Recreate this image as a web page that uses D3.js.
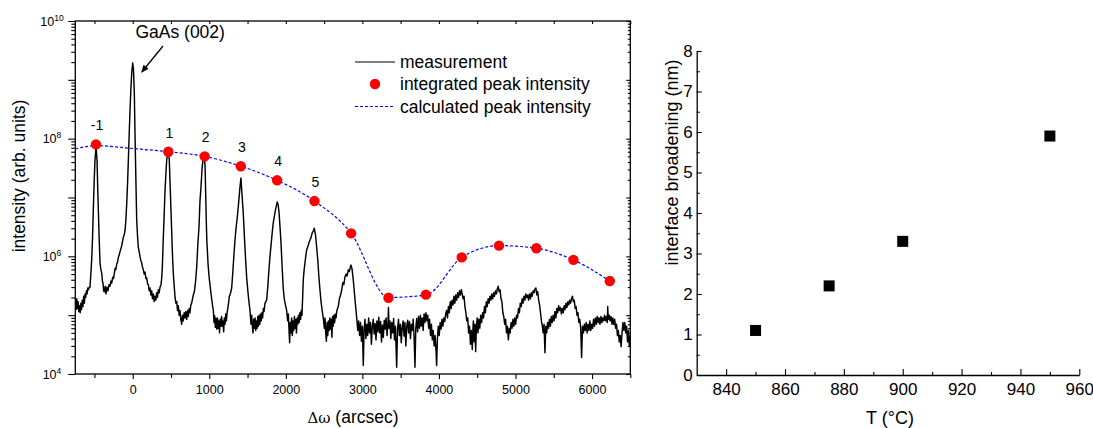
<!DOCTYPE html>
<html><head><meta charset="utf-8">
<script src="https://cdn.jsdelivr.net/npm/d3@7"></script>
<style>
body{margin:0;background:#fff}
svg{display:block}
text{font-family:"Liberation Sans",Arial,Helvetica,sans-serif;fill:#000}
</style>
</head><body>
<svg id="c" width="1093" height="428"></svg>
<script>
// ---------- Left panel data ----------
const measX = [
-750,-740,-731,-722,-713,-704,-695,-686,-677,-668,-659,-650,-641,-632,-623,-614,-605,-596,-587,-578,-566,-558,-547,-536,-525,-515,-504,-493,-479,-466,-458,-449,-438,-427,-416,-405,-396,-388,-380,-371,-360,-349,-336,-323,-310,-296,-285,-274,-262,-250,-240,-231,-220,-209,-198,-188,-177,-166,-155,-144,-133,-123,-112,-101,-90,-78,-67,-57,-46,-35,-24,-13,0,
10,21,30,40,52,63,73,84,95,106,118,128,138,150,161,172,183,194,204,215,226,237,248,258,269,280,291,302,313,324,334,345,357,370,380,387,396,405,413,421,433,444,460,470,478,489,500,511,522,533,543,553,564,575,585,596,606,617,628,640,650,661,672,683,694,705,716,726,737,748,759,770,781,792,805,820,836,851,866,879,892,905,918,935,945,953,961,968,985,997,
1009,1020,1031,1042,1053,1062,1071,1080,1089,1098,1107,1116,1125,1134,1143,1152,1161,1170,1179,1188,1197,1206,1215,1224,1233,1242,1252,1262,1271,1282,1293,1310,1323,1336,1350,1365,1379,1392,1403,1414,1428,1444,1460,1475,1489,1505,1518,1532,1545,1554,1563,1571,1580,1589,1598,1607,1616,1625,1634,1643,1652,1661,1670,1679,1688,1697,1706,1715,1728,1750,1764,1778,1793,1808,1822,1836,1850,1863,1876,1889,1900,1912,1924,1938,1952,1967,1980,1995,
2011,2024,2033,2042,2050,2058,2067,2076,2085,2094,2103,2112,2121,2130,2139,2148,2157,2166,2175,2184,2193,2202,2211,2220,2228,2240,2256,2272,2290,2302,2316,2330,2345,2358,2372,2388,2403,2418,2432,2446,2460,2475,2490,2503,2512,2521,2530,2539,2548,2557,2566,2575,2584,2593,2602,2611,2620,2629,2638,2647,2656,2667,2685,2700,2715,2730,2745,2758,2773,2788,2800,2816,2830,2842,2852,2866,2881,2895,2910,2925,
2940,2952,2964,2976,2988,3000,3012,3022,3034,3046,3058,3070,3082,3094,3106,3118,3130,3142,3154,3166,3178,3190,3202,3214,3226,3238,3250,3262,3274,3286,3298,3310,3322,3334,3341,3348,3360,3372,3384,3396,3408,3420,3432,3448,3460,3472,3484,3496,3508,3520,3532,3544,3556,3568,3580,3592,3604,3616,3628,3640,3652,3664,3676,3687,3698,3710,3722,3734,3746,3758,3770,3782,3794,3806,3818,3830,3842,3854,3866,3878,3890,3902,3914,3926,3938,3950,3962,3970,3980,3992,
4004,4016,4028,4040,4052,4064,4076,4088,4100,4112,4124,4136,4148,4160,4172,4184,4196,4208,4220,4232,4244,4256,4268,4280,4292,4304,4316,4328,4340,4352,4364,4376,4388,4400,4412,4424,4436,4444,4450,4460,4470,4480,4490,4500,4510,4522,4534,4546,4558,4571,4583,4595,4607,4619,4631,4643,4655,4667,4679,4691,4703,4715,4727,4739,4751,4763,4775,4787,4799,4811,4823,4835,4847,4859,4871,4883,4895,4907,4919,4931,4943,4955,4967,4979,4991,
5003,5015,5027,5039,5051,5063,5075,5087,5099,5111,5123,5135,5147,5159,5171,5183,5195,5207,5219,5231,5243,5255,5267,5279,5291,5303,5315,5327,5339,5351,5362,5373,5385,5396,5408,5420,5432,5444,5456,5468,5480,5492,5504,5516,5528,5540,5552,5564,5576,5588,5600,5612,5624,5636,5648,5660,5672,5684,5696,5708,5720,5732,5744,5756,5768,5780,5792,5804,5816,5828,5840,5852,5864,5876,5888,5900,5912,5924,5936,5948,5960,5972,5984,5996,
6008,6020,6032,6044,6056,6068,6080,6092,6104,6116,6128,6140,6152,6164,6176,6188,6200,6205,6212,6224,6236,6248,6260,6272,6284,6296,6308,6320,6332,6344,6356,6368,6380,6392,6404,6416,6428,6440,6452,6464,6476,6488,6500
];
const measY = [
1.6e5,1.25e5,1.9e5,1.3e5,1.7e5,1.15e5,1.45e5,1.1e5,1.6e5,1.25e5,1.8e5,1.4e5,2.1e5,1.6e5,2.3e5,2.0e5,2.6e5,2.3e5,2.9e5,2.7e5,3.0e5,3.0e5,5.0e5,8.7e5,2.0e6,6.1e6,1.8e7,4.3e7,7.3e7,4.3e7,1.6e7,6.1e6,2.0e6,7.7e5,6.0e5,5.2e5,3.8e5,3.5e5,2.6e5,2.5e5,3.1e5,2.3e5,3.0e5,2.6e5,3.3e5,3.1e5,3.8e5,3.5e5,4.4e5,4.2e5,5.2e5,6.2e5,6.0e5,7.4e5,8.0e5,9.6e5,1.05e6,1.2e6,1.35e6,1.5e6,1.8e6,2.1e6,2.3e6,2.7e6,4.0e6,8.0e6,1.8e7,4.3e7,1.2e8,3.1e8,7.0e8,1.3e9,1.93e9,
1.5e9,6.0e8,1.2e8,2.5e7,4.2e6,2.2e6,1.44e6,1.2e6,1.0e6,8.5e5,7.7e5,6.5e5,6.0e5,5.0e5,5.4e5,4.2e5,4.3e5,3.4e5,3.3e5,2.6e5,2.9e5,2.2e5,2.6e5,1.9e5,2.3e5,1.7e5,2.1e5,1.8e5,2.4e5,2.0e5,2.7e5,2.4e5,3.0e5,3.3e5,4.5e5,6.6e5,1.5e6,3.2e6,6.0e6,1.19e7,2.5e7,4.3e7,6.2e7,5.5e7,4.3e7,1.6e7,6.1e6,2.2e6,8.7e5,4.5e5,3.0e5,2.0e5,1.6e5,1.7e5,1.2e5,1.45e5,1.0e5,1.2e5,8.5e4,7.0e4,1.0e5,8.0e4,1.1e5,9.0e4,1.15e5,8.5e4,1.2e5,9.5e4,1.3e5,1.1e5,1.5e5,1.6e5,1.9e5,2.2e5,2.5e5,3.6e5,6.6e5,1.6e6,3.2e6,9.0e6,1.5e7,3.0e7,4.4e7,4.9e7,3.5e7,1.2e7,4.0e6,1.9e6,7.1e5,4.6e5,
3.3e5,2.5e5,1.9e5,1.5e5,1.2e5,7.5e4,9.8e4,6.2e4,8.8e4,5.8e4,9.0e4,6.0e4,8.0e4,5.0e4,8.5e4,6.5e4,9.5e4,6.5e4,8.0e4,5.2e4,9.0e4,7.0e4,1.05e5,8.0e4,1.1e5,1.3e5,1.6e5,2.1e5,2.2e5,2.5e5,2.9e5,6.0e5,1.1e6,1.9e6,3.0e6,4.5e6,6.9e6,1.1e7,1.6e7,2.15e7,1.1e7,5.5e6,2.0e6,8.7e5,4.3e5,2.5e5,1.7e5,1.2e5,7.0e4,1.0e5,6.5e4,5.0e4,8.5e4,6.0e4,9.0e4,5.5e4,8.0e4,6.0e4,9.5e4,6.5e4,1.0e5,7.0e4,1.05e5,8.0e4,1.1e5,9.0e4,1.3e5,1.15e5,1.6e5,1.8e5,3.0e5,5.5e5,1.0e6,1.6e6,2.5e6,3.7e6,4.8e6,6.0e6,7.2e6,8.4e6,7.5e6,5.5e6,3.2e6,1.6e6,6.5e5,2.8e5,1.9e5,1.5e5,
1.2e5,8.0e4,1.05e5,5.5e4,3.4e4,7.5e4,5.0e4,9.0e4,4.5e4,8.0e4,5.5e4,9.5e4,6.0e4,8.5e4,5.0e4,9.0e4,7.0e4,1.0e5,7.5e4,1.1e5,8.5e4,1.2e5,1.0e5,2.0e5,4.0e5,6.0e5,9.0e5,1.28e6,1.5e6,1.7e6,1.9e6,2.1e6,2.5e6,2.7e6,3.0e6,2.3e6,1.44e6,8.5e5,4.5e5,2.7e5,1.7e5,1.2e5,8.7e4,6.0e4,9.0e4,5.0e4,3.6e4,7.5e4,4.5e4,8.0e4,5.5e4,9.0e4,5.8e4,8.5e4,4.2e4,9.5e4,6.5e4,1.0e5,7.5e4,1.05e5,9.0e4,1.2e5,1.4e5,1.9e5,2.2e5,2.7e5,3.6e5,3.3e5,4.5e5,5.0e5,4.6e5,5.9e5,5.5e5,6.5e5,7.1e5,6.0e5,4.0e5,2.5e5,1.5e5,9.3e4,
5.5e4,8.0e4,4.5e4,7.5e4,3.6e4,6.5e4,1.4e4,5.5e4,8.5e4,4.0e4,7.0e4,4.5e4,9.0e4,5.0e4,7.5e4,3.2e4,6.5e4,8.5e4,4.8e4,7.2e4,3.8e4,8.0e4,5.2e4,9.2e4,5.0e4,7.8e4,3.5e4,6.8e4,4.2e4,8.2e4,5.8e4,9.0e4,4.5e4,7.0e4,1.35e5,6.0e4,8.0e4,4.0e4,7.5e4,5.0e4,8.8e4,3.8e4,6.5e4,1.3e4,6.0e4,8.5e4,4.5e4,7.0e4,3.4e4,6.2e4,8.0e4,4.4e4,7.5e4,3.0e4,6.5e4,8.2e4,5.0e4,7.8e4,4.0e4,7.0e4,5.5e4,8.5e4,4.2e4,1.3e4,6.0e4,8.8e4,5.2e4,9.5e4,6.0e4,1.0e5,6.5e4,9.0e4,5.5e4,1.05e5,7.5e4,1.1e5,8.0e4,1.0e5,6.0e4,8.5e4,4.5e4,7.0e4,3.8e4,5.5e4,3.0e4,4.5e4,2.5e4,1.4e4,4.0e4,6.5e4,
4.5e4,7.5e4,5.8e4,8.5e4,6.5e4,9.0e4,7.8e4,1.05e5,1.2e5,9.0e4,1.4e5,1.1e5,1.7e5,1.3e5,1.8e5,1.5e5,2.1e5,1.6e5,2.2e5,1.8e5,2.4e5,2.0e5,2.6e5,2.2e5,2.7e5,2.3e5,1.9e5,2.1e5,1.4e5,1.1e5,8.0e4,9.0e4,5.0e4,6.5e4,3.2e4,5.5e4,2.6e4,5.6e4,8.0e4,3.5e4,7.0e4,2.4e4,6.5e4,9.0e4,5.0e4,8.5e4,6.0e4,1.0e5,7.5e4,1.1e5,9.0e4,1.4e5,1.1e5,1.7e5,1.4e5,1.9e5,1.6e5,2.1e5,1.8e5,2.3e5,1.9e5,2.4e5,2.1e5,2.6e5,2.3e5,2.8e5,3.1e5,2.5e5,2.7e5,1.9e5,1.7e5,1.1e5,9.5e4,7.0e4,8.5e4,5.0e4,6.5e4,3.8e4,6.0e4,5.0e4,7.5e4,6.0e4,8.5e4,6.5e4,9.0e4,
7.0e4,1.0e5,9.0e4,1.3e5,1.1e5,1.6e5,1.4e5,1.9e5,1.6e5,2.1e5,1.8e5,2.3e5,2.0e5,2.2e5,1.8e5,2.3e5,1.9e5,2.4e5,2.1e5,2.6e5,2.4e5,2.8e5,2.9e5,2.2e5,2.5e5,1.8e5,1.5e5,1.1e5,8.0e4,6.5e4,5.0e4,7.0e4,2.3e4,6.5e4,5.0e4,7.5e4,6.0e4,8.5e4,6.5e4,9.5e4,7.5e4,1.0e5,8.0e4,1.15e5,9.0e4,1.3e5,1.1e5,1.45e5,1.2e5,1.35e5,1.05e5,1.3e5,1.1e5,1.45e5,1.25e5,1.6e5,1.35e5,1.7e5,1.5e5,1.8e5,1.6e5,1.9e5,2.1e5,1.7e5,1.8e5,1.3e5,1.4e5,1.0e5,1.1e5,7.5e4,8.5e4,6.0e4,1.9e4,6.5e4,5.0e4,7.0e4,5.5e4,7.5e4,5.0e4,7.0e4,5.5e4,8.0e4,5.5e4,7.0e4,
6.0e4,8.5e4,6.5e4,9.0e4,7.0e4,9.5e4,7.5e4,9.0e4,7.0e4,9.5e4,7.5e4,9.0e4,8.0e4,1.0e5,8.0e4,9.5e4,7.5e4,1.4e5,8.5e4,1.0e5,8.0e4,9.5e4,7.0e4,9.0e4,7.0e4,8.5e4,6.0e4,7.0e4,4.5e4,5.5e4,3.5e4,4.5e4,2.9e4,5.0e4,7.5e4,5.5e4,7.5e4,5.0e4,6.5e4,3.5e4,5.5e4,3.0e4,4.5e4
];
const peakX = [-480,465,940,1412,1886,2374,2853,3341,3830,4298,4785,5273,5757,6232];
const peakY = [8.0e7,6.0e7,5.0e7,3.4e7,1.96e7,8.7e6,2.46e6,1.98e5,2.23e5,9.6e5,1.52e6,1.37e6,8.7e5,3.8e5];
const peakLabels = ["-1","1","2","3","4","5"];
const calcX = [-750,-480,0,465,940,1412,1886,2374,2853,3341,3830,4298,4785,5273,5757,6232];
const calcY = [6.7e7,7.6e7,6.8e7,6.0e7,5.0e7,3.4e7,1.96e7,8.7e6,2.46e6,2.0e5,2.2e5,9.6e5,1.52e6,1.37e6,8.7e5,3.8e5];
const xMajorTicks = [0,1000,2000,3000,4000,5000,6000];
const xMinorTicks = [-500,500,1500,2500,3500,4500,5500,6500];
const yLabelExps = [4,6,8,10];
const legendLabels = ["measurement","integrated peak intensity","calculated peak intensity"];

// ---------- Right panel data ----------
const tempC = [850,875,900,950];
const broadening = [1.1,2.2,3.3,5.9];
const tMajorTicks = [840,860,880,900,920,940,960];
const tMinorTicks = [850,870,890,910,930,950];
const bMajorTicks = [0,1,2,3,4,5,6,7,8];
const bMinorTicks = [0.5,1.5,2.5,3.5,4.5,5.5,6.5,7.5];

const svg = d3.select("#c");

// ================= LEFT PANEL =================
const L = {l:75.3, r:630.3, t:21, b:374};
const x = d3.scaleLinear().domain([-750,6500]).range([L.l,L.r]);
const y = d3.scaleLog().domain([1e4,1e10]).range([L.b,L.t]);

const yMajor = d3.range(4,11).map(e => Math.pow(10,e));
const yMinor = [];
for (let e=4;e<10;e++) for (let k=2;k<=9;k++) yMinor.push(k*Math.pow(10,e));

const gL = svg.append("g");
function styleAxis(g){ g.select(".domain").remove(); g.selectAll("line").attr("stroke","#000").attr("stroke-width",1.1); }

// bottom
gL.append("g").attr("transform",`translate(0,${L.b})`)
  .call(d3.axisBottom(x).tickValues(xMajorTicks).tickSize(5).tickPadding(6).tickFormat(d3.format("d")))
  .call(styleAxis)
  .selectAll("text").attr("font-size",12.5).attr("font-family","Liberation Sans, Arial, sans-serif");
gL.append("g").attr("transform",`translate(0,${L.b})`)
  .call(d3.axisBottom(x).tickValues(xMinorTicks).tickSize(4).tickFormat(""))
  .call(styleAxis);
// top
gL.append("g").attr("transform",`translate(0,${L.t})`)
  .call(d3.axisTop(x).tickValues(xMajorTicks.concat(xMinorTicks)).tickSize(-3).tickFormat(""))
  .call(styleAxis);
// left
gL.append("g").attr("transform",`translate(${L.l},0)`)
  .call(d3.axisLeft(y).tickValues(yMajor).tickSize(7).tickFormat(""))
  .call(styleAxis);
gL.append("g").attr("transform",`translate(${L.l},0)`)
  .call(d3.axisLeft(y).tickValues(yMinor).tickSize(4).tickFormat(""))
  .call(styleAxis);
// right
gL.append("g").attr("transform",`translate(${L.r},0)`)
  .call(d3.axisRight(y).tickValues(yMajor).tickSize(-4).tickFormat(""))
  .call(styleAxis);
gL.append("g").attr("transform",`translate(${L.r},0)`)
  .call(d3.axisRight(y).tickValues(yMinor).tickSize(-2.5).tickFormat(""))
  .call(styleAxis);

// y tick labels 10^n
const yl = gL.append("g").selectAll("text").data(yLabelExps).join("text")
  .attr("x", 52).attr("y", d => y(Math.pow(10,d)) + 4.5)
  .attr("text-anchor","middle").attr("font-size",12.5);
yl.append("tspan").text("10");
yl.append("tspan").attr("dy",-5).attr("font-size",8.5).text(d => d);

// frame
gL.append("rect").attr("x",L.l).attr("y",L.t).attr("width",L.r-L.l).attr("height",L.b-L.t)
  .attr("fill","none").attr("stroke","#000").attr("stroke-width",1.3);

// clip
svg.append("clipPath").attr("id","clipL").append("rect")
  .attr("x",L.l).attr("y",L.t).attr("width",L.r-L.l).attr("height",L.b-L.t);

// measurement
const meas = measX.map((v,i)=>[v,measY[i]]);
gL.append("path").datum(meas).attr("clip-path","url(#clipL)")
  .attr("d", d3.line().x(d=>x(d[0])).y(d=>y(d[1])))
  .attr("fill","none").attr("stroke","#000").attr("stroke-width",1.45).attr("stroke-linejoin","round");

// calculated
const calc = calcX.map((v,i)=>[v,calcY[i]]);
gL.append("path").datum(calc).attr("clip-path","url(#clipL)")
  .attr("d", d3.line().x(d=>x(d[0])).y(d=>y(d[1])).curve(d3.curveMonotoneX))
  .attr("fill","none").attr("stroke","#0000ff").attr("stroke-width",1.2).attr("stroke-dasharray","3,2");

// peak points
gL.append("g").selectAll("circle").data(peakX).join("circle")
  .attr("cx",(d)=>x(d)).attr("cy",(d,i)=>y(peakY[i])).attr("r",5.2).attr("fill","#ff0000");

// peak order labels
gL.append("g").selectAll("text").data(peakLabels).join("text")
  .attr("x",(d,i)=>x(peakX[i])+1).attr("y",(d,i)=>y(peakY[i])-14)
  .attr("text-anchor","middle").attr("font-size",14).text(d=>d);

// GaAs (002) annotation
gL.append("text").attr("x",x(620)).attr("y",y(5.1e9)).attr("text-anchor","middle")
  .attr("font-size",17.5).text("GaAs (002)");
{
  const x1=x(396), y1=y(3.76e9), x2=x(108), y2=y(1.31e9);
  const dx=x2-x1, dy=y2-y1, len=Math.hypot(dx,dy), ux=dx/len, uy=dy/len;
  const hl=8, hw=3.2;
  gL.append("line").attr("x1",x1).attr("y1",y1).attr("x2",x2-ux*hl*0.8).attr("y2",y2-uy*hl*0.8)
    .attr("stroke","#000").attr("stroke-width",1.3);
  const bx=x2-ux*hl, by=y2-uy*hl;
  gL.append("polygon").attr("points",[[x2,y2],[bx-uy*hw,by+ux*hw],[bx+uy*hw,by-ux*hw]].map(p=>p.join(",")).join(" "))
    .attr("fill","#000");
}

// legend
const lg = gL.append("g");
const lgY = [62, 84, 106.5];
lg.append("line").attr("x1",355).attr("x2",395).attr("y1",lgY[0]).attr("y2",lgY[0]).attr("stroke","#000").attr("stroke-width",1.2);
lg.append("circle").attr("cx",375).attr("cy",lgY[1]).attr("r",5.2).attr("fill","#ff0000");
lg.append("line").attr("x1",355).attr("x2",395).attr("y1",lgY[2]).attr("y2",lgY[2]).attr("stroke","#0000ff").attr("stroke-width",1.2).attr("stroke-dasharray","3,2");
lg.selectAll("text").data(legendLabels).join("text")
  .attr("x",400).attr("y",(d,i)=>lgY[i]+6).attr("font-size",17.5).text(d=>d);

// axis titles
gL.append("text").attr("transform","translate(25,176) rotate(-90)").attr("text-anchor","middle")
  .attr("font-size",17.5).text("intensity (arb. units)");
const xt = gL.append("text").attr("x",353).attr("y",423).attr("text-anchor","middle").attr("font-size",17.5);
xt.append("tspan").attr("font-family","DejaVu Serif, Liberation Serif, serif").attr("font-size",15).text("Δω");
xt.append("tspan").text(" (arcsec)");

// ================= RIGHT PANEL =================
const R = {l:696.7, r:1079.3, t:51, b:375};
const xr = d3.scaleLinear().domain([830,960]).range([R.l,R.r]);
const yr = d3.scaleLinear().domain([0,8]).range([R.b,R.t]);
const gR = svg.append("g");

gR.append("g").attr("transform",`translate(0,${R.b})`)
  .call(d3.axisBottom(xr).tickValues(tMajorTicks).tickSizeInner(-6).tickSizeOuter(0).tickPadding(8).tickFormat(d3.format("d")))
  .call(g=>{g.select(".domain").attr("stroke","#000").attr("stroke-width",1.3); g.selectAll("line").attr("stroke-width",1.1);})
  .selectAll("text").attr("font-size",17).attr("font-family","Liberation Sans, Arial, sans-serif");
gR.append("g").attr("transform",`translate(0,${R.b})`)
  .call(d3.axisBottom(xr).tickValues(tMinorTicks).tickSizeInner(-3).tickSizeOuter(0).tickFormat(""))
  .call(g=>{g.select(".domain").remove(); g.selectAll("line").attr("stroke-width",1.1);});
gR.append("g").attr("transform",`translate(${R.l},0)`)
  .call(d3.axisLeft(yr).tickValues(bMajorTicks).tickSizeInner(-5).tickSizeOuter(0).tickPadding(4).tickFormat(d3.format("d")))
  .call(g=>{g.select(".domain").attr("stroke","#000").attr("stroke-width",1.3); g.selectAll("line").attr("stroke-width",1.1);})
  .selectAll("text").attr("font-size",17).attr("font-family","Liberation Sans, Arial, sans-serif");
gR.append("g").attr("transform",`translate(${R.l},0)`)
  .call(d3.axisLeft(yr).tickValues(bMinorTicks).tickSizeInner(-3).tickSizeOuter(0).tickFormat(""))
  .call(g=>{g.select(".domain").remove(); g.selectAll("line").attr("stroke-width",1.1);});

const sq = 11;
gR.append("g").selectAll("rect").data(tempC).join("rect")
  .attr("x",d=>xr(d)-sq/2).attr("y",(d,i)=>yr(broadening[i])-sq/2)
  .attr("width",sq).attr("height",sq).attr("fill","#000");

gR.append("text").attr("transform","translate(678,162.5) rotate(-90)").attr("text-anchor","middle")
  .attr("font-size",18).text("interface broadening (nm)");
gR.append("text").attr("x",890).attr("y",424).attr("text-anchor","middle").attr("font-size",18).text("T (°C)");
</script>
</body></html>
